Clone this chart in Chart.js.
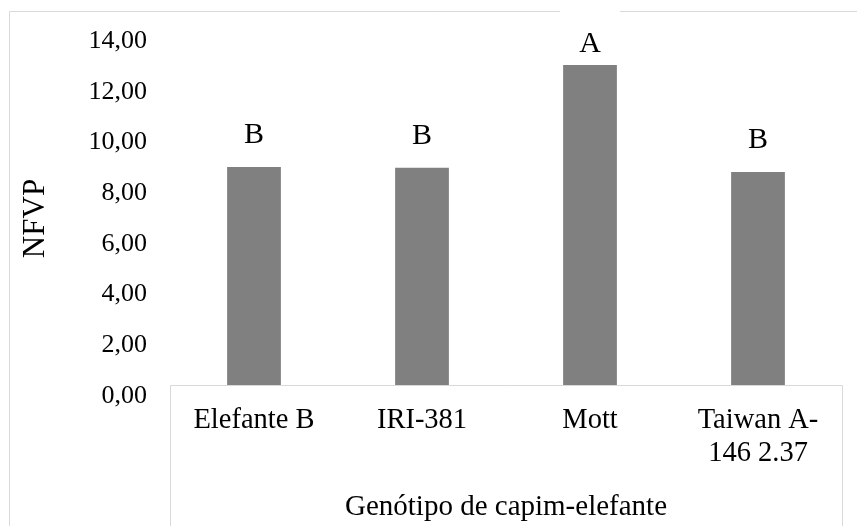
<!DOCTYPE html>
<html>
<head>
<meta charset="utf-8">
<script src="https://cdn.jsdelivr.net/npm/chart.js@4/dist/chart.umd.min.js"></script>
<style>
  html, body { margin: 0; padding: 0; background: #fff; }
  #wrap { width: 857px; height: 526px; position: relative; }
</style>
</head>
<body>
<div id="wrap"><canvas id="nfvpChart"></canvas></div>
<script>
const categories = ['Elefante B', 'IRI-381', 'Mott', ['Taiwan A-', '146 2.37']];
const nfvpValues = [9.03, 9.0, 13.05, 8.83];
const letters = ['B', 'B', 'A', 'B'];
const yMin = 0;
const yMax = 14;
const yStep = 2;

const serif = "'Liberation Serif', 'Times New Roman', serif";
const lineGray = '#d9d9d9';

// outer frame of the exported chart
const framePlugin = {
    id: 'frame',
    beforeDraw(chart) {
        const ctx = chart.ctx;
        ctx.save();
        ctx.strokeStyle = lineGray;
        ctx.lineWidth = 1;
        ctx.beginPath();
        ctx.moveTo(9.5, chart.height);
        ctx.lineTo(9.5, 11.5);
        ctx.lineTo(chart.width, 11.5);
        ctx.stroke();
        ctx.restore();
    }
};

// white category box that sits over the bar feet
const boxPlugin = {
    id: 'catBox',
    afterDatasetsDraw(chart) {
        const ctx = chart.ctx;
        const x = chart.scales.x;
        const top = Math.round(chart.scales.y.getPixelForValue(0)) - 11 + 0.5;
        const l = Math.round(x.left) + 0.5;
        const r = Math.round(x.right) + 0.5;
        ctx.save();
        ctx.fillStyle = '#fff';
        ctx.fillRect(l, top, r - l, chart.height - top);
        ctx.strokeStyle = lineGray;
        ctx.lineWidth = 1;
        ctx.beginPath();
        ctx.moveTo(l, chart.height);
        ctx.lineTo(l, top);
        ctx.lineTo(r, top);
        ctx.lineTo(r, chart.height);
        ctx.stroke();

        // significance letters above the bars (white label boxes like Excel)
        const meta = chart.getDatasetMeta(0);
        ctx.font = '30px ' + serif;
        ctx.textAlign = 'center';
        ctx.textBaseline = 'alphabetic';
        meta.data.forEach((bar, i) => {
            const ty = Math.max(bar.y - 24, chart.chartArea.top + 11);
            ctx.fillStyle = '#fff';
            ctx.fillRect(bar.x - 30, ty - 41, 60, 48);
            ctx.fillStyle = '#000';
            ctx.fillText(letters[i], bar.x, ty);
        });
        ctx.restore();
    }
};

const ctx = document.getElementById('nfvpChart').getContext('2d');
new Chart(ctx, {
    type: 'bar',
    data: {
        labels: categories,
        datasets: [{
            label: 'NFVP',
            data: nfvpValues,
            backgroundColor: '#808080',
            borderWidth: 0,
            categoryPercentage: 1,
            barPercentage: 0.32
        }]
    },
    options: {
        responsive: true,
        maintainAspectRatio: false,
        animation: false,
        layout: {
            padding: { left: 0, right: 15, top: 41, bottom: 0 }
        },
        plugins: {
            legend: { display: false },
            tooltip: { enabled: false }
        },
        scales: {
            x: {
                grid: { display: false, drawTicks: false, z: 1 },
                border: { display: false },
                ticks: {
                    z: 1,
                    color: '#000',
                    font: { family: serif, size: 28.5, lineHeight: 1.15 },
                    padding: 8,
                    maxRotation: 0,
                    autoSkip: false
                },
                title: {
                    display: true,
                    text: 'Genótipo de capim-elefante',
                    color: '#000',
                    font: { family: serif, size: 29 },
                    padding: { top: 0, bottom: 1 }
                },
                afterFit(scale) { scale.height = 130; }
            },
            y: {
                min: yMin,
                max: yMax,
                grid: { display: false, drawTicks: false },
                border: { display: false },
                ticks: {
                    stepSize: yStep,
                    color: '#000',
                    font: { family: serif, size: 26 },
                    padding: 23,
                    callback: v => v.toFixed(2).replace('.', ',')
                },
                title: {
                    display: true,
                    text: 'NFVP',
                    color: '#000',
                    font: { family: serif, size: 31 },
                    padding: { top: 17, bottom: 0 }
                },
                afterFit(scale) { scale.width = 170; }
            }
        }
    },
    plugins: [framePlugin, boxPlugin]
});
</script>
</body>
</html>
